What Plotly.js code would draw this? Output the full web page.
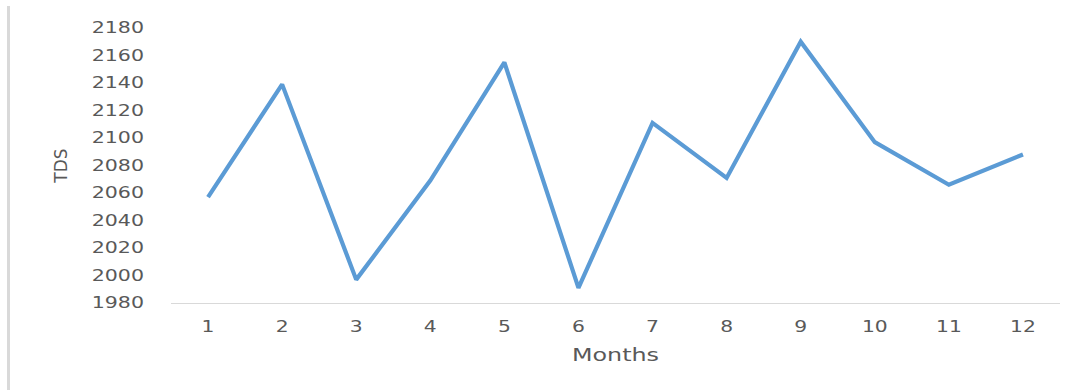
<!DOCTYPE html>
<html>
<head>
<meta charset="utf-8">
<script src="https://cdn.plot.ly/plotly-3.0.1.min.js"></script>
<style>
  html, body { margin: 0; padding: 0; background: #ffffff; }
  #wrap { position: relative; width: 1085px; height: 390px; overflow: hidden; }
  #edge { position: absolute; left: 7px; top: 6px; width: 3px; height: 384px; background: #d9d9d9; }
  #chart { position: absolute; left: 0; top: 0; width: 1085px; height: 390px; }
</style>
</head>
<body>
<div id="wrap">
  <div id="chart"></div>
  <div id="edge"></div>
</div>
<script>
// Monthly TDS readings
const months = [1, 2, 3, 4, 5, 6, 7, 8, 9, 10, 11, 12];
const tds = [2057, 2139, 1997, 2069, 2155, 1991, 2111, 2071, 2170, 2097, 2066, 2088];
const yTicks = [1980, 2000, 2020, 2040, 2060, 2080, 2100, 2120, 2140, 2160, 2180];

const textColor = '#595959';
const fontFamily = 'DejaVu Sans, Liberation Sans, sans-serif';

const trace = {
  x: months.map(String),
  y: tds,
  type: 'scatter',
  mode: 'lines',
  line: { color: '#5B9BD5', width: 4.2, shape: 'linear' },
  hoverinfo: 'x+y'
};

const layout = {
  width: 1085,
  height: 390,
  margin: { l: 171, r: 25, t: 28, b: 87, pad: 0 },
  paper_bgcolor: '#ffffff',
  plot_bgcolor: '#ffffff',
  showlegend: false,
  font: { family: fontFamily, color: textColor },
  xaxis: {
    type: 'category',
    range: [-0.5, months.length - 0.5],
    showgrid: false,
    zeroline: false,
    showline: true,
    linecolor: '#d9d9d9',
    linewidth: 1,
    ticks: '',
    ticklabelstandoff: 10,
    tickfont: { family: fontFamily, size: 15, color: textColor },
    title: { text: 'Months', font: { family: fontFamily, size: 17, color: textColor }, standoff: 14 },
    fixedrange: true
  },
  yaxis: {
    range: [1980, 2180],
    tickvals: yTicks,
    ticktext: yTicks.map(String),
    showgrid: false,
    zeroline: false,
    showline: false,
    ticks: '',
    ticklabelstandoff: 26,
    tickfont: { family: fontFamily, size: 15, color: textColor },
    title: { text: 'TDS', font: { family: fontFamily, size: 17, color: textColor }, standoff: 33 },
    fixedrange: true
  }
};

// Widen label glyphs horizontally to give the broad lettering of the original figure
function widenText(selector, factor) {
  document.querySelectorAll(selector).forEach(function (el) {
    const w = el.getComputedTextLength();
    if (w > 0) {
      el.setAttribute('textLength', (w * factor).toFixed(2));
      el.setAttribute('lengthAdjust', 'spacingAndGlyphs');
    }
  });
}

Plotly.newPlot('chart', [trace], layout, { displayModeBar: false, staticPlot: true }).then(function () {
  widenText('#chart .xtick text', 1.35);
  widenText('#chart .ytick text', 1.37);
  widenText('#chart .g-xtitle text', 1.4);
});
</script>
</body>
</html>
